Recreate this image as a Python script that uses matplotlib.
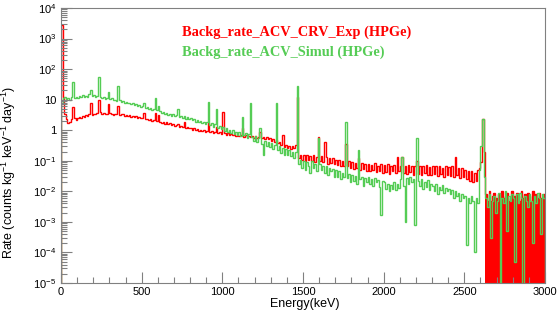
import numpy as np
import matplotlib
matplotlib.use("Agg")
import matplotlib.pyplot as plt
from matplotlib.ticker import LogLocator, FixedLocator, FuncFormatter, NullFormatter

plt.rcParams['font.family'] = ['Liberation Sans', 'DejaVu Sans']
plt.rcParams['mathtext.fontset'] = 'custom'
plt.rcParams['mathtext.rm'] = 'Liberation Sans'
plt.rcParams['mathtext.it'] = 'Liberation Sans:italic'

# 10 keV bins, 0 - 3000 keV
bin_width = 10
energy_edges = np.arange(0, 3000 + bin_width, bin_width)

# measured background (counts kg-1 keV-1 day-1), one row per 100 keV
rate_exp = [
    2800, 12, 3.5, 2.4, 1.7, 1.9, 2.3, 5.8, 2.6, 2.2,
    2.5, 2.8, 2.5, 3.0, 2.8, 3.2, 3.0, 3.3, 7.7, 3.2,
    3.5, 3.3, 3.7, 10.0, 3.9, 3.4, 3.8, 3.5, 3.3, 7.0,
    3.7, 3.4, 3.2, 3.5, 3.4, 6.0, 3.1, 3.4, 3.3, 3.0,
    3.2, 2.9, 3.1, 2.8, 3.0, 2.7, 2.9, 2.6, 2.8, 2.5,
    2.6, 3.6, 2.3, 2.4, 2.1, 2.3, 2.0, 2.2, 3.6, 2.0,
    3.2, 1.85, 1.75, 1.9, 1.65, 1.8, 1.55, 1.7, 1.5, 1.55,
    1.4, 1.45, 1.6, 1.3, 1.38, 1.27, 1.8, 1.22, 1.25, 1.15,
    1.18, 1.05, 1.14, 1.0, 1.1, 0.96, 1.05, 0.93, 1.0, 0.9,
    0.95, 1.7, 0.86, 0.92, 0.82, 0.9, 1.3, 0.8, 0.86, 0.76,
    4.0, 0.82, 0.72, 0.8, 0.7, 0.78, 0.68, 0.75, 0.66, 0.72,
    0.64, 0.7, 1.2, 0.62, 0.69, 0.6, 0.67, 0.58, 0.65, 0.57,
    0.63, 0.55, 0.62, 0.9, 0.54, 0.6, 0.52, 0.58, 0.5, 0.56,
    0.46, 0.52, 0.42, 0.47, 0.37, 0.42, 0.33, 0.7, 0.29, 0.34,
    0.26, 0.31, 0.25, 0.3, 0.27, 0.33, 12.0, 0.12, 0.16, 0.11,
    0.15, 0.1, 0.16, 0.11, 0.14, 0.1, 0.15, 0.09, 0.13, 0.6,
    0.1, 0.14, 0.09, 0.4, 0.13, 0.08, 0.12, 0.085, 0.12, 0.08,
    0.11, 0.075, 0.105, 0.07, 0.1, 0.068, 0.35, 0.07, 0.095, 0.06,
    0.09, 0.055, 0.085, 0.06, 0.12, 0.05, 0.085, 0.055, 0.08, 0.048,
    0.08, 0.045, 0.075, 0.05, 0.085, 0.042, 0.07, 0.048, 0.078, 0.04,
    0.072, 0.044, 0.08, 0.038, 0.07, 0.046, 0.075, 0.04, 0.13, 0.045,
    0.07, 0.13, 0.04, 0.068, 0.036, 0.072, 0.042, 0.065, 0.035, 0.07,
    0.1, 0.038, 0.07, 0.034, 0.066, 0.04, 0.072, 0.035, 0.064, 0.033,
    0.068, 0.036, 0.07, 0.032, 0.065, 0.038, 0.06, 0.03, 0.066, 0.034,
    0.062, 0.032, 0.065, 0.03, 0.13, 0.034, 0.058, 0.028, 0.06, 0.03,
    0.05, 0.025, 0.048, 0.022, 0.045, 0.02, 0.04, 0.022, 0.05, 0.06,
    0.09, 2.3, 0.2, 0.008, 0.005, 0.01, 0.005, 0.007, 0.009, 0.006,
    0.005, 0.008, 0.004, 0.01, 0.006, 0.007, 0.009, 0.005, 0.006, 0.01,
    0.005, 0.007, 0.009, 0.007, 0.005, 0.01, 0.006, 0.008, 0.005, 0.009,
    0.007, 0.005, 0.01, 0.005, 0.008, 0.006, 0.009, 0.006, 0.005, 0.008,
]

# simulated background, same binning
rate_sim = [
    8, 11, 12, 10.5, 11.5, 10, 12, 39, 11, 12.5,
    11, 13, 12, 14, 12.5, 13.5, 12, 15, 20, 13,
    14, 12, 13, 55, 12.5, 11, 12, 10.5, 11.5, 18,
    10.5, 11, 9.5, 10, 9, 27, 9.5, 8.5, 9, 8,
    8.5, 7.5, 8, 7, 7.5, 6.5, 7, 6, 6.5, 5.8,
    6, 7.7, 5.5, 5.8, 5, 5.3, 4.6, 5, 11, 4.5,
    6, 4.2, 3.6, 4, 3.4, 3.8, 3.2, 3.5, 3.0, 3.3,
    2.9, 3.1, 5.0, 2.8, 3.0, 2.6, 2.9, 2.4, 2.7, 2.3,
    2.5, 2.1, 2.3, 1.9, 2.2, 1.8, 2.0, 1.7, 1.9, 1.6,
    1.8, 8.5, 1.5, 1.7, 1.3, 1.6, 5.0, 1.2, 1.4, 1.1,
    1.3, 0.95, 1.2, 0.9, 1.05, 0.8, 1.0, 0.75, 0.9, 0.7,
    0.85, 0.65, 2.7, 0.7, 0.8, 0.55, 0.75, 7.7, 0.6, 0.45,
    0.65, 0.4, 0.55, 1.2, 0.35, 0.16, 0.45, 0.3, 0.4, 0.28,
    0.38, 0.25, 0.32, 7.5, 0.22, 0.3, 0.18, 0.26, 0.16, 0.24,
    0.15, 0.22, 0.14, 0.2, 0.12, 0.19, 27, 0.08, 0.11, 0.06,
    0.1, 0.05, 0.09, 0.07, 0.04, 0.1, 0.06, 0.08, 0.045, 0.55,
    0.08, 0.05, 0.07, 0.04, 0.065, 0.035, 0.06, 0.045, 0.055, 0.03,
    0.05, 0.03, 0.045, 0.025, 0.04, 0.03, 1.8, 0.028, 0.038, 0.02,
    0.035, 0.022, 0.032, 0.018, 0.22, 0.025, 0.03, 0.015, 0.028, 0.02,
    0.03, 0.018, 0.026, 0.015, 0.028, 0.02, 0.024, 0.014, 0.0017, 0.022,
    0.02, 0.012, 0.018, 0.01, 0.016, 0.012, 0.02, 0.011, 0.017, 0.013,
    0.025, 0.13, 0.015, 0.001, 0.028, 0.018, 0.03, 0.02, 0.026, 0.0008,
    0.55, 0.022, 0.015, 0.025, 0.012, 0.02, 0.014, 0.024, 0.011, 0.018,
    0.015, 0.01, 0.018, 0.008, 0.014, 0.011, 0.016, 0.009, 0.013, 0.01,
    0.012, 0.008, 0.011, 0.006, 0.01, 0.007, 0.009, 0.005, 0.008, 0.006,
    0.007, 0.00018, 0.006, 0.004, 0.007, 0.005, 0.0001, 0.006, 0.004, 0.05,
    0.3, 2.3, 0.03, 0.006, 0.003, 0.008, 0.0003, 0.005, 0.007, 0.002,
    0.005, 0.009, 0, 0.006, 0.004, 0.01, 0.0005, 0.007, 0.005, 0.008,
    0.006, 0.00005, 0.008, 0.004, 0.009, 0.006, 0, 0.007, 0.005, 0.003,
    0.008, 0.005, 0.0002, 0.007, 0.004, 0.009, 0.006, 0.0004, 0.008, 0.006,
]

label_exp = "Backg_rate_ACV_CRV_Exp (HPGe)"
label_sim = "Backg_rate_ACV_Simul (HPGe)"
ymin, ymax = 1e-5, 1e4

red = np.array(rate_exp, dtype=float)
green = np.clip(np.array(rate_sim, dtype=float), 1e-7, None)

fig = plt.figure(figsize=(5.59, 3.11), dpi=100)
ax = fig.add_axes([61 / 559, 28 / 311, 484 / 559, 275 / 311])

ax.stairs(red, energy_edges, color='#ff0000', lw=1.0)
# above the 2614 keV line most measured bins are empty -> solid block in log scale
tail = energy_edges[:-1] >= 2630
ax.fill_between(np.append(energy_edges[:-1][tail], 3000), ymin,
                np.append(red[tail], red[-1]), step='post', color='#ff0000', lw=0)
ax.stairs(green, energy_edges, color='#55cc55', lw=1.0)

ax.set_yscale('log')
ax.set_xlim(0, 3000)
ax.set_ylim(ymin, ymax)

ax.xaxis.set_major_locator(FixedLocator([0, 500, 1000, 1500, 2000, 2500, 3000]))
ax.xaxis.set_minor_locator(FixedLocator(np.arange(0, 3001, 100)))
ax.yaxis.set_major_locator(LogLocator(base=10, numticks=20))
ax.yaxis.set_minor_locator(LogLocator(base=10, subs=np.arange(2, 10), numticks=20))
ax.yaxis.set_minor_formatter(NullFormatter())


def fmt_log(v, pos):
    e = int(round(np.log10(v)))
    if e == 0:
        return "1"
    if e == 1:
        return "10"
    return r"$10^{%d}$" % e


ax.yaxis.set_major_formatter(FuncFormatter(fmt_log))

frame = '#808080'
for s in ax.spines.values():
    s.set_color(frame)
    s.set_linewidth(0.8)
ax.tick_params(which='both', direction='in', colors=frame, labelcolor='black',
               top=False, right=False, labelsize=8)
ax.tick_params(which='major', length=8, width=0.8)
ax.tick_params(which='minor', length=4, width=0.8)
ax.tick_params(axis='x', pad=3)

ax.set_xlabel("Energy(keV)", fontsize=9)
ax.set_ylabel(r"Rate (counts kg$^{-1}$ keV$^{-1}$ day$^{-1}$)", fontsize=9)
ax.xaxis.set_label_coords(0.504, -0.055)
ax.yaxis.set_label_coords(-0.089, 0.40)

fig.text(182 / 559, 1 - 36 / 311, label_exp, color='#ff0000', fontsize=10.4,
         fontweight='bold', family='Liberation Serif')
fig.text(182 / 559, 1 - 56 / 311, label_sim, color='#55cc55', fontsize=10.4,
         fontweight='bold', family='Liberation Serif')

fig.savefig("out.png", dpi=100)
